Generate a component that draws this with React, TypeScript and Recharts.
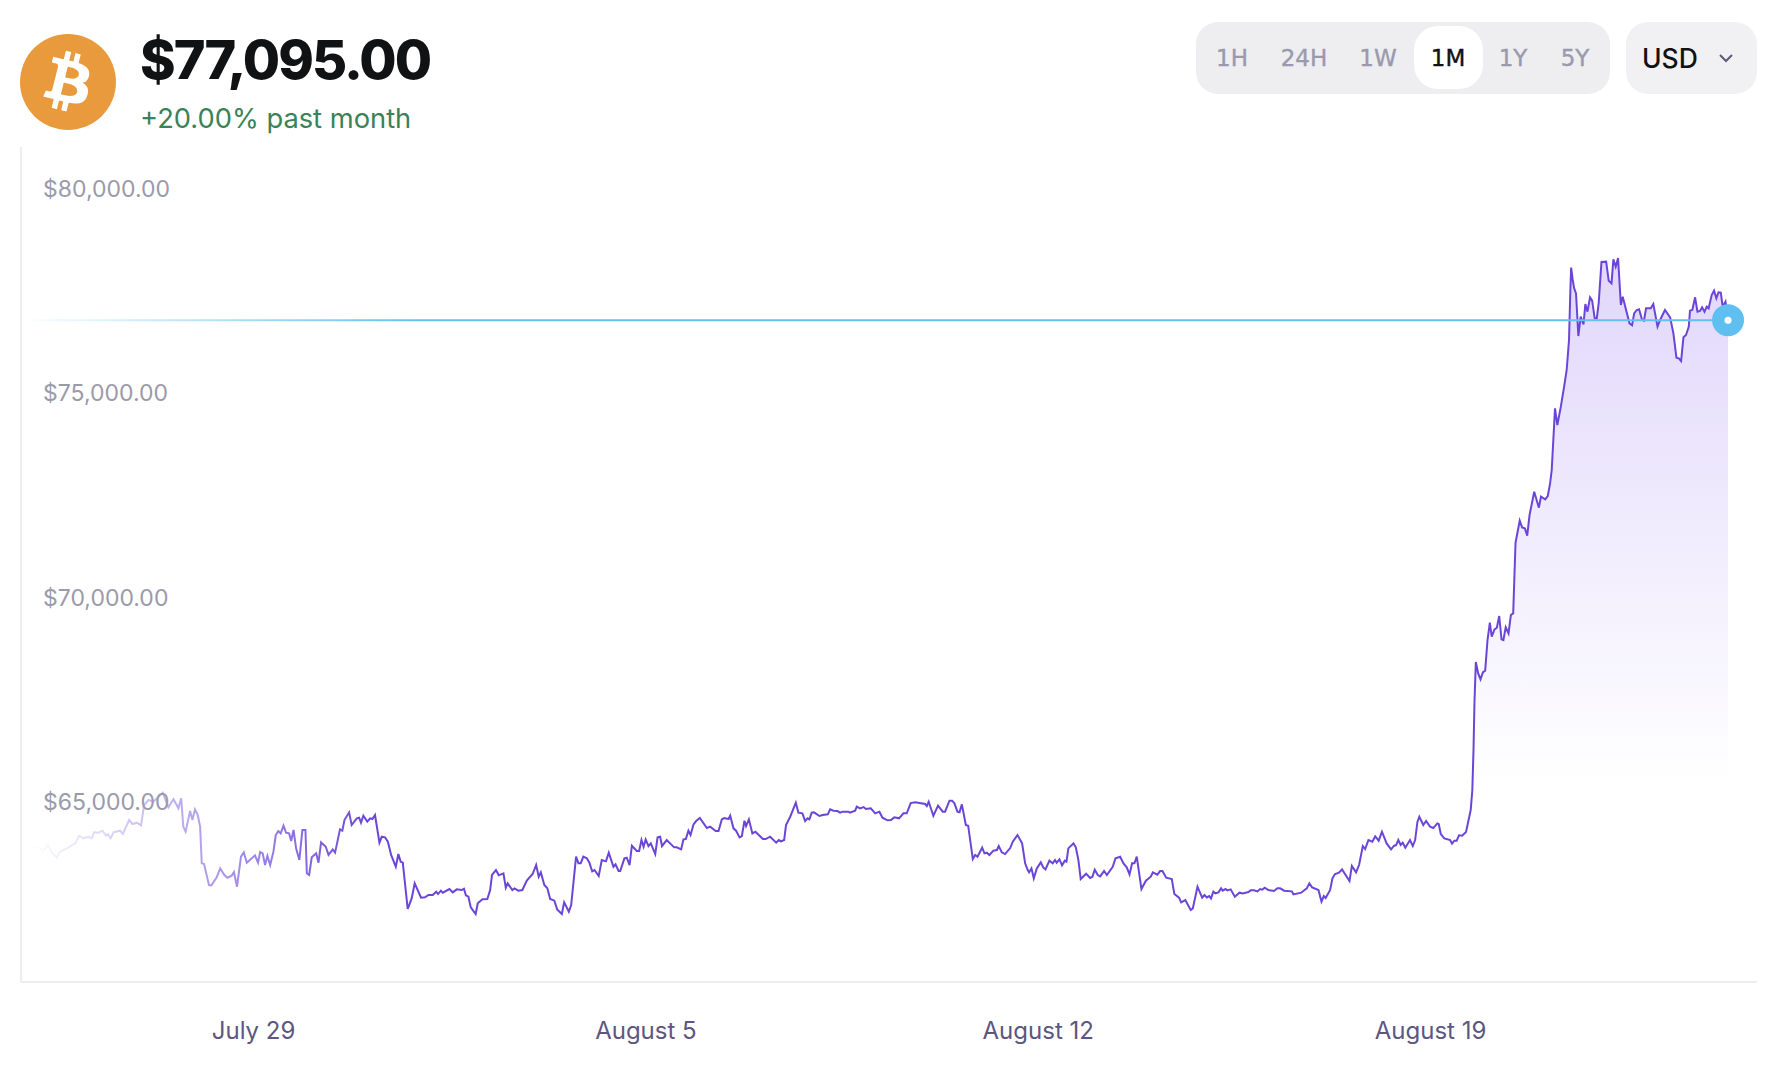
import { ComposedChart, Area, XAxis, YAxis, ReferenceLine, ReferenceDot } from "recharts";

// hours since July 25 00:00
const hours = [
  0.3, 3.2, 6, 7.9, 9.6, 11.7, 13.1, 16, 19.6, 21.3, 23.1, 25.3, 26.7, 27.7, 29.6, 31.3, 32.8, 33.6, 34.8, 36,
  38.8, 40, 42.7, 44.1, 46, 47.8, 49.1, 51, 53.1, 57.1, 59.5, 61.7, 63.8, 65, 65.9, 66.9, 68.8, 69.8, 70.9, 72.1,
  73.1, 73.8, 74.8, 76.9, 77.9, 80.2, 81.7, 83.5, 84.8, 86.6, 87.6, 88.9, 90.6, 91.8, 93.1, 96.6, 97.9, 98.8, 99.9, 100.9,
  101.9, 103.1, 104.5, 105.5, 106.6, 107.6, 108.8, 109.9, 111.2, 112.1, 113.1, 114.2, 115.6, 116.9, 118.2, 118.8, 119.8, 120.9, 122.8, 123.8,
  124.9, 126.9, 128.1, 129.9, 130.9, 133, 134, 134.9, 136.9, 138, 140.2, 141.2, 142, 143, 144.7, 145.9, 146.9, 148, 149.9, 150.9,
  152.3, 153.5, 154.9, 156.9, 158, 159, 159.9, 162, 163.7, 165, 167.7, 169.4, 170.9, 172.7, 174.2, 175, 176.2, 177, 179.9, 181.3,
  183, 185.1, 186.1, 186.9, 188, 189, 191.1, 192, 194, 196.1, 197.3, 198.1, 199.8, 201, 203, 204, 204.8, 206.8, 207.7, 209.4,
  211.1, 213, 215.5, 217, 218.1, 219, 220.5, 221.8, 223, 224.8, 226, 228, 229, 231, 232, 234.1, 235.1, 236.1, 237.2, 238.7,
  239.8, 241, 242, 243.8, 245.1, 246.9, 248.1, 250.1, 251, 252.3, 253, 254.8, 255.8, 257, 258, 260.1, 261.1, 262.1, 263, 263.9,
  265.1, 266.1, 268, 269, 270.1, 270.9, 272.9, 276.1, 277.2, 279.1, 280.1, 281.1, 282.2, 283.1, 284.4, 285.5, 287.1, 290.1, 291.5, 293.9,
  295.1, 296.5, 297.5, 299.4, 300.1, 301.5, 302.6, 304.1, 305.1, 306.2, 306.9, 308.1, 309.6, 310.9, 314.1, 315.3, 317.2, 319.8, 320.9, 321.9,
  323.2, 324, 325.8, 328.2, 329.3, 331, 332.2, 333.2, 334, 335, 336, 338.3, 339.7, 341.9, 342.9, 344.3, 346, 347.2, 348.3, 350.7,
  351.4, 353.6, 354.3, 355.7, 357.2, 358.2, 360.3, 362.2, 364, 365.3, 367.4, 368.9, 370.4, 372.4, 374.3, 375.7, 377.4, 379.3, 383.6, 384.3,
  385.1, 387.1, 389.1, 391.1, 392.1, 394, 395.1, 396.1, 397.4, 398.3, 399.3, 401, 402, 404, 405, 406, 408, 409, 410, 411.1,
  412.8, 414.3, 415.1, 416.4, 417.8, 420, 421.1, 423.1, 425.1, 426.4, 427.5, 428.1, 429.1, 430.1, 431.4, 433.1, 434.2, 435.1, 436.8, 438.2,
  439.2, 439.9, 441.1, 442.2, 443.4, 444.1, 444.9, 447.1, 448.1, 449.2, 450.2, 452.5, 454.2, 455.2, 456.2, 457.5, 458.5, 460.2, 461.4, 463.9,
  465.1, 467.1, 468.5, 469.9, 471.1, 472.2, 473.2, 474.2, 476.2, 478.1, 480.2, 481.1, 483, 484.2, 485.2, 486.8, 489.2, 490.3, 492.3, 493.2,
  495, 497.3, 498.2, 500.2, 502.2, 503.2, 504.2, 505.2, 506, 507, 507.9, 509.2, 510.3, 511, 512.2, 513, 514.4, 516.2, 518.2, 519.6,
  522, 523, 524.4, 525.9, 527, 527.9, 529, 530.6, 533, 534.4, 535.6, 537.3, 540.6, 541.3, 544.6, 547, 548.1, 549.3, 552, 553.3,
  554.3, 555.1, 557, 558, 559.1, 560.8, 562.1, 565.3, 566.3, 568.1, 569.4, 571, 572, 573.4, 575.1, 576.3, 577.8, 579.2, 581.2, 583.1,
  584.4, 585.2, 586.2, 587.2, 588.1, 589.2, 591.2, 592.4, 593.4, 594.4, 595.2, 596.9, 598.1, 599.8, 601.2, 602.9, 603.5, 604.4, 605.9, 608.4,
  609.2, 610.2, 611.2, 612.2, 613.5, 615.2, 617.2, 617.9, 618.4, 618.8, 619.4, 620.4, 621.4, 622.4, 623.4, 624.4, 625.4, 626.2, 627.4, 628.4,
  629.4, 630.4, 631.2, 632.2, 633.4, 634.4, 635.4, 636.4, 638.2, 639.2, 640.4, 641.4, 642.4, 644.4, 646.4, 647.3, 649.1, 650.2, 651.2, 651.9,
  653.3, 654.3, 655.8, 657.2, 658.3, 659.3, 659.8, 660.2, 660.9, 661.5, 662.3, 663.3, 664.3, 665.5, 666.3, 667.2, 668.3, 669.2, 670.3, 671.2,
  672, 673.2, 675.2, 676.3, 677.5, 678.3, 679.3, 680.3, 681.5, 682.3, 685.2, 686.3, 687.2, 688.3, 689.3, 690.6, 691.4, 692.3, 694.3, 695.4,
  697.2, 698.3, 700.4, 702.6, 704, 705.3, 706.3, 707.3, 708.3, 709.4, 710.6, 711.1, 712.1, 713.3, 714.3, 715.4, 716.3, 717.3, 718.3, 719.1,
  720.4, 721.4, 722.4, 723.3, 724.3, 725.1, 726.3, 727.4,
];

const prices = [
  64219, 64203, 64097, 64243, 64056, 63941, 64080, 64162, 64284, 64472, 64407, 64447, 64407, 64554, 64545, 64594, 64472, 64505, 64407, 64554,
  64594, 64513, 64856, 64758, 64790, 64725, 65223, 65345, 65304, 65525, 65166, 65362, 65141, 65386, 64692, 64570, 65076, 64856, 65117, 64978,
  64692, 63795, 63778, 63264, 63256, 63452, 63672, 63509, 63443, 63493, 63582, 63223, 63958, 64064, 63811, 63990, 63811, 64072, 64039, 63754,
  63974, 63754, 64080, 64488, 64586, 64529, 64717, 64545, 64529, 64341, 64611, 64162, 63876, 64611, 64611, 63550, 63509, 63941, 64039, 63811,
  64309, 64202, 64000, 64137, 64056, 64627, 64594, 64855, 65043, 64733, 64896, 64913, 64790, 64962, 64815, 64896, 64880, 64978, 64300, 64447,
  64431, 64325, 64000, 63713, 64023, 63835, 63811, 62676, 62937, 63305, 62954, 62962, 63019, 63019, 63101, 63043, 63125, 63076, 63166, 63084,
  63158, 63141, 63174, 63011, 62978, 62717, 62554, 62815, 62913, 62921, 63141, 63509, 63631, 63501, 63550, 63199, 63305, 63141, 63182, 63125,
  63141, 63370, 63533, 63754, 63468, 63574, 63264, 63182, 62921, 62880, 62668, 62554, 62840, 62611, 62774, 63958, 63794, 63794, 63958, 63917,
  63811, 63599, 63631, 63484, 63876, 63843, 64056, 63712, 63769, 63606, 63606, 63916, 63933, 63753, 64226, 64096, 64096, 64365, 64202, 64381,
  64218, 64283, 64022, 64430, 64447, 64218, 64365, 64186, 64186, 64137, 64381, 64390, 64594, 64488, 64749, 64830, 64904, 64659, 64692, 64585,
  64585, 64871, 64904, 64879, 64961, 64651, 64594, 64430, 64463, 64839, 64708, 64871, 64528, 64569, 64390, 64390, 64447, 64300, 64365, 64333,
  64365, 64732, 64936, 65279, 65034, 65018, 64830, 64896, 64871, 65034, 65043, 64953, 64977, 64994, 65116, 65083, 65075, 65034, 65059, 65059,
  65034, 65083, 65181, 65141, 65173, 65124, 65141, 65018, 65059, 64912, 64847, 64855, 64920, 64896, 65018, 65018, 65271, 65287, 65247, 65198,
  65304, 64961, 65206, 65059, 65059, 65328, 65328, 65263, 65059, 65043, 65238, 64732, 64716, 63900, 63998, 63957, 64177, 64039, 64055, 63998,
  64104, 64120, 64218, 64063, 64022, 64169, 64324, 64488, 64283, 63794, 63631, 63573, 63671, 63427, 63671, 63818, 63688, 63647, 63859, 63794,
  63875, 63810, 63892, 63745, 63859, 63835, 64161, 64283, 64186, 63875, 63410, 63541, 63435, 63467, 63639, 63508, 63475, 63606, 63508, 63712,
  63916, 63957, 63794, 63696, 63524, 63794, 63794, 63957, 63165, 63369, 63467, 63573, 63516, 63606, 63606, 63443, 63410, 63043, 62953, 62839,
  62896, 62651, 62692, 63222, 62953, 63018, 62961, 62994, 62937, 63100, 63059, 63084, 63182, 63125, 63165, 63133, 63157, 62978, 63076, 63059,
  63092, 63133, 63133, 63108, 63165, 63149, 63198, 63141, 63116, 63182, 63182, 63125, 63108, 63035, 63076, 63182, 63304, 63206, 63141, 62855,
  62994, 62945, 63141, 63427, 63533, 63565, 63647, 63361, 63728, 63573, 63753, 64218, 64145, 64365, 64324, 64455, 64349, 64569, 64283, 64137,
  64226, 64235, 64365, 64243, 64300, 64177, 64365, 64218, 64365, 64814, 64936, 64732, 64830, 64692, 64659, 64773, 64757, 64512, 64406, 64365,
  64275, 64349, 64349, 64479, 64471, 64561, 65100, 65589, 66569, 67712, 68724, 68446, 68299, 68471, 68512, 69262, 69687, 69344, 69524, 69564,
  69850, 69279, 69262, 69573, 69426, 69875, 69915, 71646, 72184, 72021, 71997, 71817, 72323, 72894, 72503, 72772, 72707, 72788, 73099, 73425,
  74935, 74527, 74976, 75466, 75874, 76609, 77670, 78380, 78078, 77874, 77751, 76706, 77180, 76992, 77490, 77302, 77653, 77572, 77139, 77139,
  77506, 78518, 78527, 78061, 77996, 78584, 78404, 78616, 77466, 77670, 77017, 76968, 77262, 77343, 77360, 77098, 77082, 77384, 77384, 77490,
  76935, 77098, 77343, 77164, 76772, 76176, 76160, 76094, 76674, 76731, 76935, 77327, 77343, 77653, 77302, 77319, 77408, 77302, 77425, 77384,
  77710, 77817, 77629, 77776, 77768, 77425, 77547, 77095,
];

const priceTicks = [65000, 70000, 75000, 80000];
const dateTicks = [96, 264, 432, 600];
const dateLabels = ["July 29", "August 5", "August 12", "August 19"];
const ranges = ["1H", "24H", "1W", "1M", "1Y", "5Y"];
const rangeCenters = [1232, 1304, 1378, 1448, 1513, 1575];

const lastHour = hours[hours.length - 1];
const lastPrice = prices[prices.length - 1];
const firstHour = hours[0];

const chartData = hours.map((hour, i) => ({ hour, price: prices[i] }));

const FONT = "Inter, sans-serif";

function BitcoinLogo() {
  return (
    <svg width={96} height={96} viewBox="0 0 24 24" style={{ position: "absolute", left: 20, top: 34 }}>
      <circle cx={12} cy={12} r={12} fill="#e99a3d" />
      <path
        fill="#fff"
        fillRule="evenodd"
        d="M17.288 10.291c.24-1.59-.974-2.45-2.64-3.03l.54-2.153-1.315-.33-.525 2.107c-.345-.087-.705-.167-1.064-.25l.526-2.127-1.32-.33-.54 2.165c-.285-.067-.565-.132-.84-.2l-1.815-.45-.35 1.407s.975.225.955.236c.535.136.63.486.615.766l-1.477 5.92c-.075.166-.24.406-.614.314.015.02-.96-.24-.96-.24l-.66 1.51 1.71.426.93.242-.54 2.19 1.32.327.54-2.17c.36.1.705.19 1.05.273l-.51 2.154 1.32.33.545-2.19c2.24.427 3.93.257 4.64-1.774.57-1.637-.03-2.58-1.217-3.196.854-.193 1.5-.76 1.68-1.93h.01zm-3.01 4.22c-.404 1.64-3.157.75-4.05.53l.72-2.9c.896.23 3.757.67 3.33 2.37zm.41-4.24c-.37 1.49-2.662.735-3.405.55l.654-2.64c.744.18 3.137.524 2.75 2.084v.006z"
      />
    </svg>
  );
}

function Header() {
  return (
    <>
      <BitcoinLogo />
      <div style={{ position: "absolute", left: 140, top: 27, fontSize: 54, lineHeight: "66px", fontWeight: 800, letterSpacing: -2, color: "#111214" }}>
        $77,095.00
      </div>
      <div style={{ position: "absolute", left: 140, top: 101, fontSize: 27.3, lineHeight: "36px", color: "#3a8258" }}>
        +20.00% past month
      </div>

      <div style={{ position: "absolute", left: 1196, top: 22, width: 414, height: 72, borderRadius: 22, background: "#eeeef0" }} />
      <div style={{ position: "absolute", left: 1414, top: 26, width: 69, height: 63, borderRadius: 24, background: "#fff" }} />
      {ranges.map((r, i) => (
        <div
          key={r}
          style={{
            position: "absolute",
            left: rangeCenters[i] - 40,
            width: 80,
            top: 42,
            textAlign: "center",
            fontFamily: "DejaVu Sans, sans-serif",
            fontSize: 23,
            lineHeight: "32px",
            WebkitTextStroke: "0.4px",
            color: r === "1M" ? "#111214" : "#9a9aae",
          }}
        >
          {r}
        </div>
      ))}

      <div style={{ position: "absolute", left: 1626, top: 22, width: 131, height: 72, borderRadius: 22, background: "#f1f1f3" }} />
      <div style={{ position: "absolute", left: 1642, top: 42, fontSize: 26.5, lineHeight: "32px", fontWeight: 500, color: "#111214" }}>USD</div>
      <svg width={16} height={10} style={{ position: "absolute", left: 1718, top: 53 }}>
        <path d="M2 2 L8 8 L14 2" fill="none" stroke="#5c5a78" strokeWidth={2} />
      </svg>
    </>
  );
}

export default function App() {
  return (
    <div style={{ position: "absolute", left: 0, top: 0, width: 1782, height: 1088, background: "#fff", overflow: "hidden", fontFamily: FONT }}>
      <Header />
      <ComposedChart
        width={1782}
        height={1088}
        data={chartData}
        margin={{ top: 147, right: 25, bottom: 76, left: 21 }}
        style={{ position: "absolute", left: 0, top: 0 }}
      >
        <defs>
          <linearGradient id="lineFade" x1="0" y1="0" x2="1" y2="0">
            <stop offset="0" stopColor="#6a45d8" stopOpacity={0} />
            <stop offset="0.2" stopColor="#6a45d8" stopOpacity={1} />
            <stop offset="1" stopColor="#6a45d8" stopOpacity={1} />
          </linearGradient>
          <linearGradient id="areaFade" x1="0" y1="0" x2="0" y2="1">
            <stop offset="0" stopColor="#e1d7fb" stopOpacity={1} />
            <stop offset="0.73" stopColor="#e1d7fb" stopOpacity={0} />
            <stop offset="1" stopColor="#e1d7fb" stopOpacity={0} />
          </linearGradient>
          <linearGradient id="priceFade" gradientUnits="userSpaceOnUse" x1="20" y1="0" x2="420" y2="0">
            <stop offset="0" stopColor="#62c1ef" stopOpacity={0} />
            <stop offset="1" stopColor="#62c1ef" stopOpacity={1} />
          </linearGradient>
        </defs>
        <XAxis
          dataKey="hour"
          type="number"
          domain={[-3.6, 739.8]}
          ticks={dateTicks}
          tickFormatter={(h: number) => dateLabels[dateTicks.indexOf(h)]}
          stroke="#eeeeee"
          strokeWidth={2}
          tickLine={false}
          tickMargin={34}
          height={30}
          tick={{ fill: "#5c5680", fontSize: 24, fontFamily: FONT }}
        />
        <YAxis
          type="number"
          domain={[60889, 81334]}
          ticks={priceTicks}
          allowDataOverflow
          mirror
          tickFormatter={(v: number) => `$${v.toLocaleString("en-US")}.00`}
          stroke="#eeeeee"
          strokeWidth={2}
          tickLine={false}
          tickMargin={16}
          tick={{ fill: "#9a9aab", fontSize: 23, fontFamily: FONT, dy: -12.5 }}
        />
        <Area
          type="linear"
          dataKey="price"
          stroke="url(#lineFade)"
          strokeWidth={2}
          fill="url(#areaFade)"
          fillOpacity={1}
          dot={false}
          activeDot={false}
          isAnimationActive={false}
        />
        <ReferenceLine
          segment={[
            { x: firstHour, y: lastPrice },
            { x: lastHour, y: lastPrice },
          ]}
          stroke="url(#priceFade)"
          strokeWidth={2}
        />
        <ReferenceDot x={lastHour} y={lastPrice} r={16} fill="#5fbff0" stroke="none" />
        <ReferenceDot x={lastHour} y={lastPrice} r={3.5} fill="#fff" stroke="none" />
      </ComposedChart>
    </div>
  );
}
